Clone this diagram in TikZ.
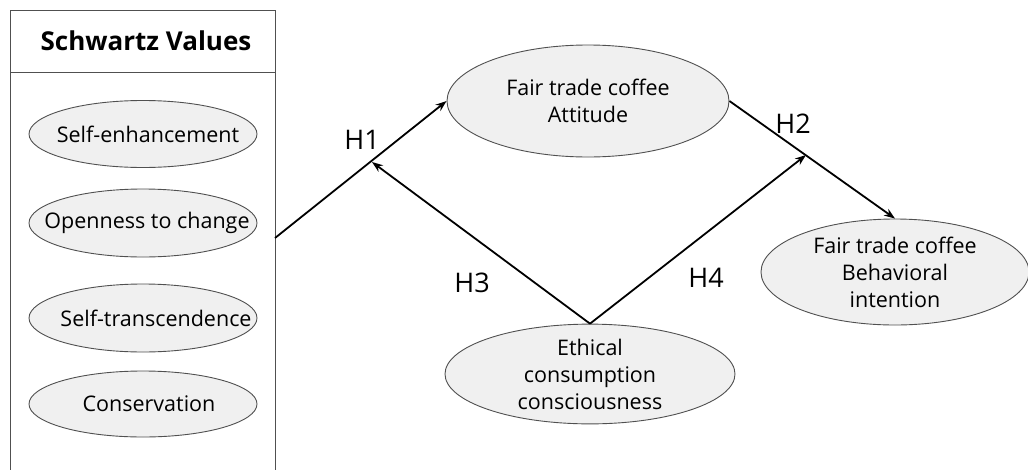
\documentclass[tikz,border=0pt]{standalone}
\usepackage{fontspec}
\setmainfont{Open Sans}
\usetikzlibrary{shapes.geometric,arrows.meta}
\definecolor{ellfill}{HTML}{F0F0F0}
\definecolor{ellline}{HTML}{505050}
\newcommand{\zw}[2]{\makebox[0pt]{\hspace*{#1}#2}}
\tikzset{
  oval/.style={ellipse, draw=ellline, line width=0.9pt, fill=ellfill, inner sep=0pt, align=center,
               font=\fontsize{21.5}{27}\selectfont},
  conn/.style={line width=1.8pt, -{Stealth[length=11pt,width=8pt]}},
  hlab/.style={font=\fontsize{27}{30}\selectfont, inner sep=0pt},
  frame/.style={draw=ellline, line width=1pt}
}
\begin{document}
\begin{tikzpicture}[x=1pt,y=-1pt]
\useasboundingbox (0,0) rectangle (1028,469);
% Schwartz values box
\draw[frame] (10,475) -- (10,10) -- (275,10) -- (275,475);
\draw[frame] (10,72) -- (275,72);
\node[font=\bfseries\fontsize{26}{30}\selectfont] (title) at (146,41) {Schwartz Values};
% value ellipses
\node[oval, minimum width=228pt, minimum height=67pt] (se) at (143,134) {\zw{10pt}{Self-enhancement}};
\node[oval, minimum width=228pt, minimum height=68pt] (oc) at (143,223) {\zw{8pt}{Openness to change}};
\node[oval, minimum width=228pt, minimum height=68pt] (st) at (143,318) {\zw{26pt}{Self-transcendence}};
\node[oval, minimum width=228pt, minimum height=66pt] (co) at (143,404) {\zw{12pt}{Conservation}};
% main constructs
\node[oval, minimum width=282pt, minimum height=112pt] (att) at (588,101) {Fair trade coffee\\Attitude};
\node[oval, minimum width=268pt, minimum height=106pt] (bi) at (895,272) {Fair trade coffee\\Behavioral\\intention};
\node[oval, minimum width=290pt, minimum height=98pt] (eth) at (590,374) {Ethical\\consumption\\consciousness};
% connector coordinates
\coordinate (h1start) at (275,238);
\coordinate (h1mid) at (372,162);
\coordinate (h2mid) at (806,155);
% connectors
\draw[conn] (h1start) -- (att.west);
\draw[conn] (att.east) -- (bi.north);
\draw[conn] (eth.north) -- (h1mid);
\draw[conn] (eth.north) -- (h2mid);
% labels
\node[hlab] (lh1) at (362,140) {H1};
\node[hlab] (lh2) at (793,124) {H2};
\node[hlab] (lh3) at (472,283) {H3};
\node[hlab] (lh4) at (706,278) {H4};
\end{tikzpicture}
\end{document}
